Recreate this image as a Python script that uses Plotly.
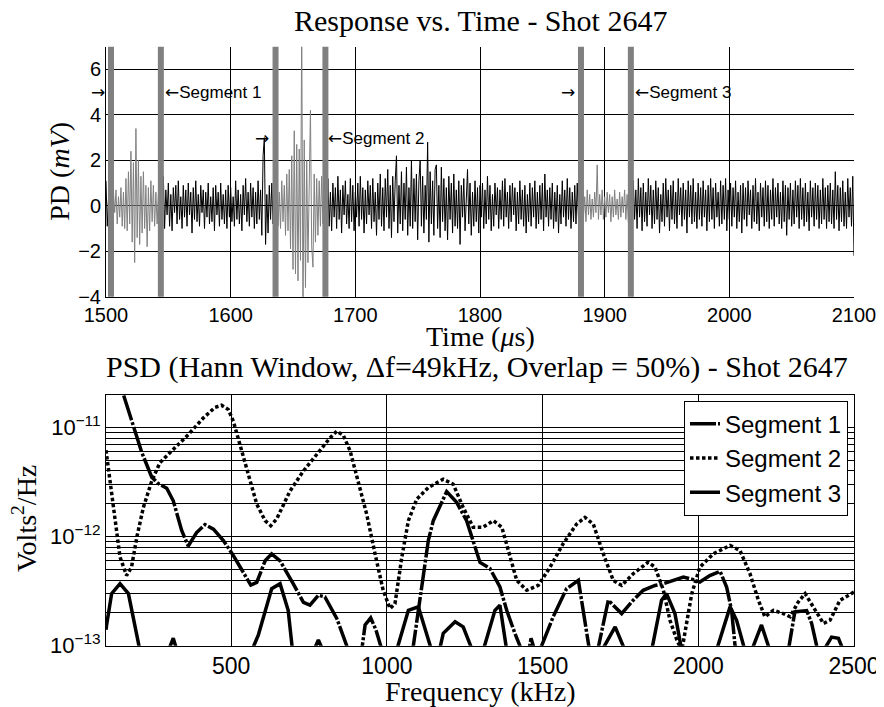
import plotly.graph_objects as go

# ---------------- Top panel: photodiode response (mV), 1 us steps from 1500 us ----------------
T_START = 1500
pd_1500 = [1.1, -0.9, 0.3, -0.6, 0.5, -0.7, 0.6, -0.3, 0.7, -0.8, 0.4, -0.5, 0.8, -0.9, 0.6, -1.0,
           1.2, -1.1, 1.5, -0.8, 2.4, -1.6, 1.9, -2.5, 3.4, -1.4, 2.0, -1.7, 1.3, -1.2, 1.5, -1.0,
           0.9, -1.8, 0.8, -1.1, 1.1, -0.7, 0.9, -0.9, 0.6, -0.8, 0.5, -0.4]
pd_1544 = [0.2, -0.6, 1.3, -1.0, 0.7, -0.4, 1.0, -0.9, 0.5, -1.1, 0.8, -0.3, 0.9, -0.8, 1.1, -0.6, 0.4, -1.0, 0.9, -0.5,
           0.7, -0.9, 1.0, -0.4, 0.6, -1.2, 0.8, -0.6, 1.1, -0.7, 0.5, -0.9, 0.9, -0.3, 0.7, -1.0, 0.6, -0.5, 1.0, -0.8,
           0.4, -0.7, 0.8, -1.1, 0.9, -0.4, 0.6, -0.9, 1.0, -0.6, 0.5, -0.8, 0.7, -1.0, 0.9, -0.5, 0.8, -0.7, 0.4, -0.9,
           1.1, -0.6, 0.7, -0.8, 0.5, -1.1, 0.9, -0.4, 1.2, -0.7, 0.6, -0.9, 1.0, -0.5, 0.8, -1.0, 0.6, -0.8, 1.1, -0.6,
           0.7, -1.3, 2.2, 3.0, -1.7, 0.5, -1.2, 0.9, -0.6, 1.0, -0.8, 0.3]
pd_1636 = [-0.5, 0.8, -0.9, 0.6, -1.0, 1.1, -0.7, 0.9, -1.3, 1.4, -1.1, 1.6, -1.9, 2.2, -2.8, 3.3, -3.0, 2.7, -3.3, 2.5,
           -2.4, 8.0, -5.0, 2.9, -3.6, 2.0, -2.5, 1.7, 4.2, -1.8, -2.7, 1.4, -1.6, 1.2, -1.3, 1.1, -0.9, 1.3, -0.8, 0.7]
pd_1676 = [1.5, -0.7, 1.2, -0.9, 0.6, -1.1, 1.0, -0.5, 0.8, -1.0, 1.3, -0.6, 0.7, -1.2, 0.9, -0.4, 1.1, -0.8, 0.5, -1.0,
           1.2, -0.7, 0.9, -1.1, 0.6, -0.5, 1.0, -0.9, 1.3, -0.6, 0.8, -1.2, 0.7, -0.8, 1.1, -0.4, 0.9, -1.0, 1.2, -0.7,
           0.6, -1.3, 1.0, -0.6, 1.4, -0.9, 0.8, -1.1, 1.2, -0.5, 1.6, -1.0, 0.9, -1.4, 1.3, -0.7, 1.1, 2.2, -1.2, 0.9,
           -0.8, 1.5, -1.1, 1.0, -0.6, 1.7, -1.3, 0.8, -0.9, 2.0, -1.0, 1.2, -0.7, 1.4, -1.5, 1.1, 2.0, -0.9, 1.3, -1.2,
           0.9, -0.6, 2.8, -1.6, 1.5, -0.8, 1.1, -1.3, 1.6, 1.8, -1.0, 0.9, -1.4, 1.7, -0.7, 1.2, -1.1, 0.8, -1.5, 1.3,
           -0.6, 1.0, -1.2, 1.4, -0.9, 0.7, -1.0, 1.1, -1.7, 0.9, -0.5, 1.2, -1.1, 0.8, 1.6, -0.8, 1.0, -1.3, 0.6, -0.9,
           1.1, -0.7, 0.8, -1.2, 0.9, -0.5, 1.0, -1.0, 0.7, -0.8, 1.3, -0.6, 0.9, -1.1, 0.5, -0.9, 1.0, -0.4, 0.8, -1.0,
           0.7, -0.6, 1.1, -0.9, 1.2, -0.5, 0.6, -1.0, 0.9, -0.7, 1.0, -0.4, 0.8, -1.1, 0.6, -0.8, 1.1, -0.6, 0.7, -0.9,
           0.9, -1.2, 0.5, -0.7, 1.0, -0.9, 0.8, -0.5, 1.1, -1.0, 0.6, -0.8, 0.9, -0.6, 1.0, -1.1, 1.4, -0.5, 0.7, -0.9,
           0.8, -0.6, 1.0, -1.0, 0.6, -0.7, 0.9, -1.2, 0.5, -0.8, 1.1, -0.5, 0.7, -0.9, 1.2, -0.6, 0.8, -1.0, 0.6, -0.7,
           0.9, -0.8, 1.0, -0.6, 0.5]
pd_1881 = [-0.3, 0.6, -0.5, 0.4, -0.7, 0.7, -0.4, 0.5, -0.6, 0.3, -0.5, 0.6, -0.3, 1.8, -0.6, 0.5, -0.4, 0.7, -0.6, 0.4,
           -0.5, 0.6, -0.3, 0.5, -0.7, 0.4, -0.5, 0.7, -0.4, 0.3, -0.6, 0.6, -0.5, 0.4, -0.3, 0.7, -0.6, 0.5, -0.7, 0.6]
pd_1921 = [0.9, -0.8, 1.1, -0.6, 0.7, -1.0, 1.2, -0.5, 0.8, -1.1, 1.0, -0.7, 0.6, -0.9, 1.2, -0.4, 0.9, -1.0, 0.7, -0.8,
           1.1, -0.6, 0.8, -1.2, 0.5, -0.7, 1.0, -0.9, 1.2, -0.5, 0.7, -1.1, 0.9, -0.6, 1.1, -0.8, 0.6, -1.0, 1.2, -0.4,
           0.8, -0.9, 1.0, -0.6, 0.7, -1.2, 1.1, -0.5, 0.9, -0.8, 1.2, -0.7, 0.6, -1.0, 1.0, -0.6, 0.8, -0.9, 1.1, -0.5,
           0.7, -1.1, 0.9, -0.7, 1.2, -0.6, 0.8, -1.0, 1.0, -0.5, 0.6, -0.9, 1.1, -0.8, 0.9, -0.6, 1.2, -1.1, 0.7, -0.6,
           1.0, -0.9, 0.8, -0.5, 1.1, -1.0, 0.6, -0.7, 0.9, -1.2, 1.0, -0.6, 0.8, -0.9, 1.1, -0.4, 0.7, -1.0, 0.9, -0.7,
           1.2, -0.8, 0.6, -1.1, 1.0, -0.5, 0.8, -0.9, 1.1, -0.7, 0.9, -1.0, 0.7, -0.6, 1.2, -0.9, 0.8, -0.5, 1.0, -0.8,
           0.6, -1.0, 1.1, -0.7, 0.9, -1.3, 0.8, -0.6, 1.0, -0.9, 0.7, -0.8, 1.1, -0.5, 0.9, -1.0, 1.2, -0.6, 0.8, -0.9,
           1.0, -0.7, 0.6, -1.1, 1.1, -0.5, 0.8, -0.9, 1.0, -0.6, 0.9, -1.0, 0.7, -0.8, 1.2, -0.6, 0.8, -1.0, 0.9, -0.7,
           1.0, -0.8, 0.7, -1.0, 1.5, -0.6, 0.9, -1.1, 0.8, -0.7, 1.1, -0.9, 0.6, -1.0, 1.2, -0.5, 0.8, -0.9, 1.3, -2.2]

segment_windows = [(1502, 1544), (1636, 1676), (1881, 1921)]   # grey-highlighted signal spans (us)
segment_bars = [1504, 1544, 1636, 1676, 1881, 1921]            # window boundary markers (us)

# ---------------- Bottom panel: PSD (V^2/Hz) ----------------
freq_seg1 = [98, 122, 154, 186, 213, 245, 266, 293, 314, 341, 362, 389, 416, 443, 475, 507, 539, 563, 582, 609,
             630, 657, 699, 732, 753, 780, 801, 839, 871, 890, 919, 930, 948, 965, 980, 1030, 1085, 1101, 1117, 1133,
             1149, 1192, 1224, 1256, 1299, 1331, 1363, 1385, 1411, 1427, 1445, 1463, 1480, 1497, 1534, 1577, 1615,
             1631, 1647, 1665, 1680, 1696, 1711, 1754, 1791, 1823, 1861, 1888, 1920, 1952, 1984, 2005, 2037, 2070,
             2091, 2107, 2118, 2200, 2289, 2310, 2348, 2364, 2380, 2440, 2500]
psd_seg1 = [3.5e-11, 2.5e-11, 2.0e-11, 1.06e-11, 5.9e-12, 3.5e-12, 3.06e-12, 2.78e-12, 2.13e-12, 1.14e-12,
            8.2e-13, 1.09e-12, 1.29e-12, 1.17e-12, 9.2e-13, 6.7e-13, 4.6e-13, 3.6e-13, 3.8e-13, 6.0e-13,
            6.95e-13, 6.0e-13, 3.7e-13, 2.5e-13, 2.35e-13, 2.9e-13, 2.8e-13, 1.78e-13, 1.0e-13, 5e-14,
            9e-14, 1.55e-13, 1.8e-13, 1.39e-13, 1.0e-13, 4e-14, 1.0e-13, 2.1e-13, 4.25e-13, 9.2e-13,
            1.4e-12, 2.59e-12, 2.06e-12, 1.4e-12, 5.8e-13, 5.1e-13, 3.45e-13, 2.1e-13, 1.3e-13, 1.0e-13,
            6e-14, 1.17e-13, 8e-14, 1.0e-13, 1.84e-13, 3.33e-13, 3.97e-13, 2.1e-13, 1.0e-13, 5e-14,
            1.0e-13, 1.71e-13, 2.61e-13, 1.97e-13, 2.61e-13, 3.22e-13, 3.57e-13, 3.7e-13, 3.97e-13, 4.26e-13,
            4.03e-13, 3.83e-13, 4.4e-13, 4.8e-13, 3.45e-13, 2.1e-13, 1.0e-13, 4e-14, 9e-14, 2.04e-13,
            2.1e-13, 1.6e-13, 1.0e-13, 5e-14, 5e-14]

freq_seg2 = [98, 111, 127, 143, 164, 180, 197, 218, 245, 271, 314, 362, 410, 448, 469, 491, 507, 528, 555, 582,
             609, 627, 646, 689, 732, 775, 817, 839, 860, 882, 908, 935, 962, 988, 1010, 1026, 1048, 1069, 1096,
             1133, 1181, 1213, 1245, 1277, 1309, 1342, 1369, 1390, 1417, 1449, 1486, 1524, 1566, 1609, 1636, 1663,
             1695, 1727, 1754, 1791, 1839, 1861, 1888, 1909, 1931, 1947, 1963, 1979, 2005, 2048, 2102, 2134, 2166,
             2193, 2214, 2241, 2273, 2295, 2321, 2343, 2369, 2402, 2423, 2455, 2500]
psd_seg2 = [6.2e-12, 3.24e-12, 1.4e-12, 6.5e-13, 4.4e-13, 5.25e-13, 9.9e-13, 1.85e-12, 3.24e-12, 4.75e-12,
            6.3e-12, 8.6e-12, 1.22e-11, 1.53e-11, 1.6e-11, 1.46e-11, 1.14e-11, 7.0e-12, 3.73e-12, 1.99e-12,
            1.4e-12, 1.26e-12, 1.45e-12, 2.62e-12, 4.0e-12, 5.68e-12, 8.0e-12, 9.25e-12, 8.5e-12, 6.1e-12,
            3.24e-12, 1.61e-12, 6.95e-13, 3.22e-13, 2.19e-13, 2.43e-13, 6.5e-13, 1.4e-12, 2.21e-12,
            2.82e-12, 3.36e-12, 3.02e-12, 1.85e-12, 1.22e-12, 1.22e-12, 1.4e-12, 1.22e-12, 7.45e-13, 3.97e-13,
            3.22e-13, 3.57e-13, 5.25e-13, 8.6e-13, 1.3e-12, 1.5e-12, 1.3e-12, 6.95e-13, 3.97e-13, 3.57e-13,
            4.57e-13, 5.83e-13, 5.25e-13, 3.22e-13, 1.71e-13, 1.13e-13, 9e-14, 1.71e-13, 3.0e-13, 5.25e-13,
            6.95e-13, 8.3e-13, 7.45e-13, 4.57e-13, 2.61e-13, 1.84e-13, 2.11e-13, 1.97e-13, 1.84e-13, 2.52e-13,
            3.0e-13, 2.27e-13, 1.6e-13, 1.71e-13, 2.61e-13, 3.1e-13]

freq_seg3 = [98, 100, 116, 143, 170, 190, 207, 250, 299, 314, 326, 450, 566, 587, 630, 657, 683, 697, 740, 765,
             780, 795, 900, 1031, 1069, 1101, 1144, 1160, 1181, 1219, 1245, 1272, 1290, 1309, 1347, 1363, 1385,
             1500, 1690, 1733, 1765, 1810, 1850, 1882, 1898, 1925, 1947, 2000, 2058, 2102, 2123, 2150, 2171,
             2203, 2230, 2300, 2402, 2428, 2450, 2466, 2500]
psd_seg3 = [1.4e-13, 1.55e-13, 3.0e-13, 3.7e-13, 3.0e-13, 1.6e-13, 9e-14, 4e-14, 9e-14, 1.17e-13,
            9e-14, 4e-14, 9e-14, 1.25e-13, 3.33e-13, 3.7e-13, 2.11e-13, 9e-14, 5e-14, 9e-14,
            1.13e-13, 9e-14, 4e-14, 9e-14, 2.11e-13, 2.27e-13, 9e-14, 7e-14, 1.3e-13, 1.66e-13,
            1.49e-13, 9e-14, 7e-14, 9e-14, 2.11e-13, 2.35e-13, 9e-14, 4e-14, 9e-14, 1.49e-13,
            9e-14, 5e-14, 9e-14, 2.61e-13, 3.0e-13, 1.97e-13, 9e-14, 5e-14, 9e-14, 2.27e-13,
            1.71e-13, 9e-14, 9e-14, 1.55e-13, 9e-14, 5e-14, 9e-14, 1.2e-13, 1.17e-13, 9e-14, 6e-14]

legend_names = ["Segment 1", "Segment 2", "Segment 3"]

# ---------------- Build figure ----------------
pd_mv = pd_1500 + pd_1544 + pd_1636 + pd_1676 + pd_1881 + pd_1921
time_us = [T_START + i for i in range(len(pd_mv))]


def in_window(t):
    return any(a <= t <= b for a, b in segment_windows)


def on_edge_or_out(t):
    return (not in_window(t)) or any(t in (a, b) for a, b in segment_windows)


black_y = [v if on_edge_or_out(t) else None for t, v in zip(time_us, pd_mv)]
grey_y = [v if in_window(t) else None for t, v in zip(time_us, pd_mv)]

SANS = "Liberation Sans, Arial, sans-serif"
SERIF = "Liberation Serif, Times New Roman, serif"

fig = go.Figure()
fig.add_trace(go.Scatter(x=time_us, y=black_y, mode="lines", line=dict(color="black", width=1),
                         showlegend=False, hoverinfo="skip", xaxis="x", yaxis="y"))
fig.add_trace(go.Scatter(x=time_us, y=grey_y, mode="lines", line=dict(color="#808080", width=1),
                         showlegend=False, hoverinfo="skip", xaxis="x", yaxis="y"))

styles = [dict(color="black", width=3.5, dash="26px,2px,3px,2px"),
          dict(color="black", width=3.5, dash="3.5px,2.5px"),
          dict(color="black", width=3.5)]
for name, fx, py, st in zip(legend_names, [freq_seg1, freq_seg2, freq_seg3],
                            [psd_seg1, psd_seg2, psd_seg3], styles):
    fig.add_trace(go.Scatter(x=fx, y=py, mode="lines", name=name, line=st, xaxis="x2", yaxis="y2"))

for t in segment_bars:
    fig.add_shape(type="line", xref="x", yref="y domain", x0=t, x1=t, y0=0, y1=1,
                  line=dict(color="#808080", width=6), layer="above")

RA = "<span style='font-family:DejaVu Sans'>→</span>"
LA = "<span style='font-family:DejaVu Sans'>←</span>"
ann = []
txt_font = dict(family=SANS, size=17, color="black")
# arrows / labels marking the segments
ann.append(dict(x=1504, y=5, xref="x", yref="y", text=RA, showarrow=False, xanchor="right", xshift=-4, font=txt_font))
ann.append(dict(x=1544, y=5, xref="x", yref="y", text=LA + "Segment 1", showarrow=False, xanchor="left", xshift=2, font=txt_font))
ann.append(dict(x=1636, y=3, xref="x", yref="y", text=RA, showarrow=False, xanchor="right", xshift=-5, font=txt_font))
ann.append(dict(x=1676, y=3, xref="x", yref="y", text=LA + "Segment 2", showarrow=False, xanchor="left", xshift=1, font=txt_font))
ann.append(dict(x=1881, y=5, xref="x", yref="y", text=RA, showarrow=False, xanchor="right", xshift=-4, font=txt_font))
ann.append(dict(x=1921, y=5, xref="x", yref="y", text=LA + "Segment 3", showarrow=False, xanchor="left", xshift=2, font=txt_font))

# The page body adds an 8 px offset; figure is sized so that window pixels line up.
OFF = 8
W, H = 884 - OFF, 707 - OFF
PLOT_L, PLOT_R = 106, 854          # plot-area edges in window pixels
L = PLOT_L - OFF
R = W - (PLOT_R - OFF)


def px(xp):
    return (xp - PLOT_L) / (PLOT_R - PLOT_L)


def py_(yp):
    return 1 - (yp - OFF) / H


title_font = dict(family=SERIF, size=30, color="black")
label_font = dict(family=SERIF, size=28, color="black")
ann.append(dict(x=px(480), y=py_(21), xref="paper", yref="paper", text="Response vs. Time - Shot 2647",
                showarrow=False, xanchor="center", yanchor="middle", font=title_font))
ann.append(dict(x=px(480), y=py_(336), xref="paper", yref="paper", text="Time (<i>μ</i>s)",
                showarrow=False, xanchor="center", yanchor="middle", font=label_font))
ann.append(dict(x=px(477), y=py_(367), xref="paper", yref="paper",
                text="PSD (Hann Window, Δf=49kHz, Overlap = 50%) - Shot 2647",
                showarrow=False, xanchor="center", yanchor="middle", font=title_font))
ann.append(dict(x=px(480), y=py_(691), xref="paper", yref="paper", text="Frequency (kHz)",
                showarrow=False, xanchor="center", yanchor="middle", font=label_font))
ann.append(dict(x=px(60), y=py_(171.7), xref="paper", yref="paper", text="PD (<i>mV</i>)", textangle=-90,
                showarrow=False, xanchor="center", yanchor="middle", font=label_font))
ann.append(dict(x=px(24), y=py_(519), xref="paper", yref="paper", text="Volts<sup>2</sup>/Hz", textangle=-90,
                showarrow=False, xanchor="center", yanchor="middle", font=label_font))

grid = dict(showgrid=True, gridcolor="black", gridwidth=1, zeroline=False, showline=True,
            linecolor="black", linewidth=1, ticks="")

fig.update_layout(
    width=W, height=H, margin=dict(l=L, r=R, t=0, b=0, autoexpand=False),
    paper_bgcolor="white", plot_bgcolor="white",
    annotations=ann,
    xaxis=dict(domain=[0, 1], anchor="y", range=[1500, 2100], tickmode="linear", tick0=1500, dtick=100,
               tickfont=dict(family=SANS, size=20, color="black"), **grid),
    yaxis=dict(domain=[py_(296.7), py_(46.7)], anchor="x", range=[-4, 7], tickmode="linear", tick0=0, dtick=2,
               tickfont=dict(family=SANS, size=20, color="black"), **grid),
    xaxis2=dict(domain=[0, 1], anchor="y2", range=[98, 2500], tickmode="linear", tick0=0, dtick=500, mirror=True,
                tickfont=dict(family=SANS, size=23, color="black"), **grid),
    yaxis2=dict(domain=[py_(645.7), py_(394.7)], anchor="x2", type="log", range=[-13, -10.699], mirror=True,
                tickmode="array", tickvals=[1e-13, 1e-12, 1e-11],
                ticktext=["10<sup>−13</sup>", "10<sup>−12</sup>", "10<sup>−11</sup>"],
                tickfont=dict(family=SANS, size=22, color="black"),
                minor=dict(tickmode="linear", dtick="D1", showgrid=True, gridcolor="black", gridwidth=1, ticks=""),
                **grid),
    legend=dict(x=px(848), xanchor="right", y=py_(400.7), yanchor="top", bgcolor="white",
                bordercolor="black", borderwidth=1, font=dict(family=SANS, size=24, color="black"),
                tracegroupgap=0, entrywidth=128, entrywidthmode="pixels"),
    showlegend=True,
)

fig.write_html("out.html")
